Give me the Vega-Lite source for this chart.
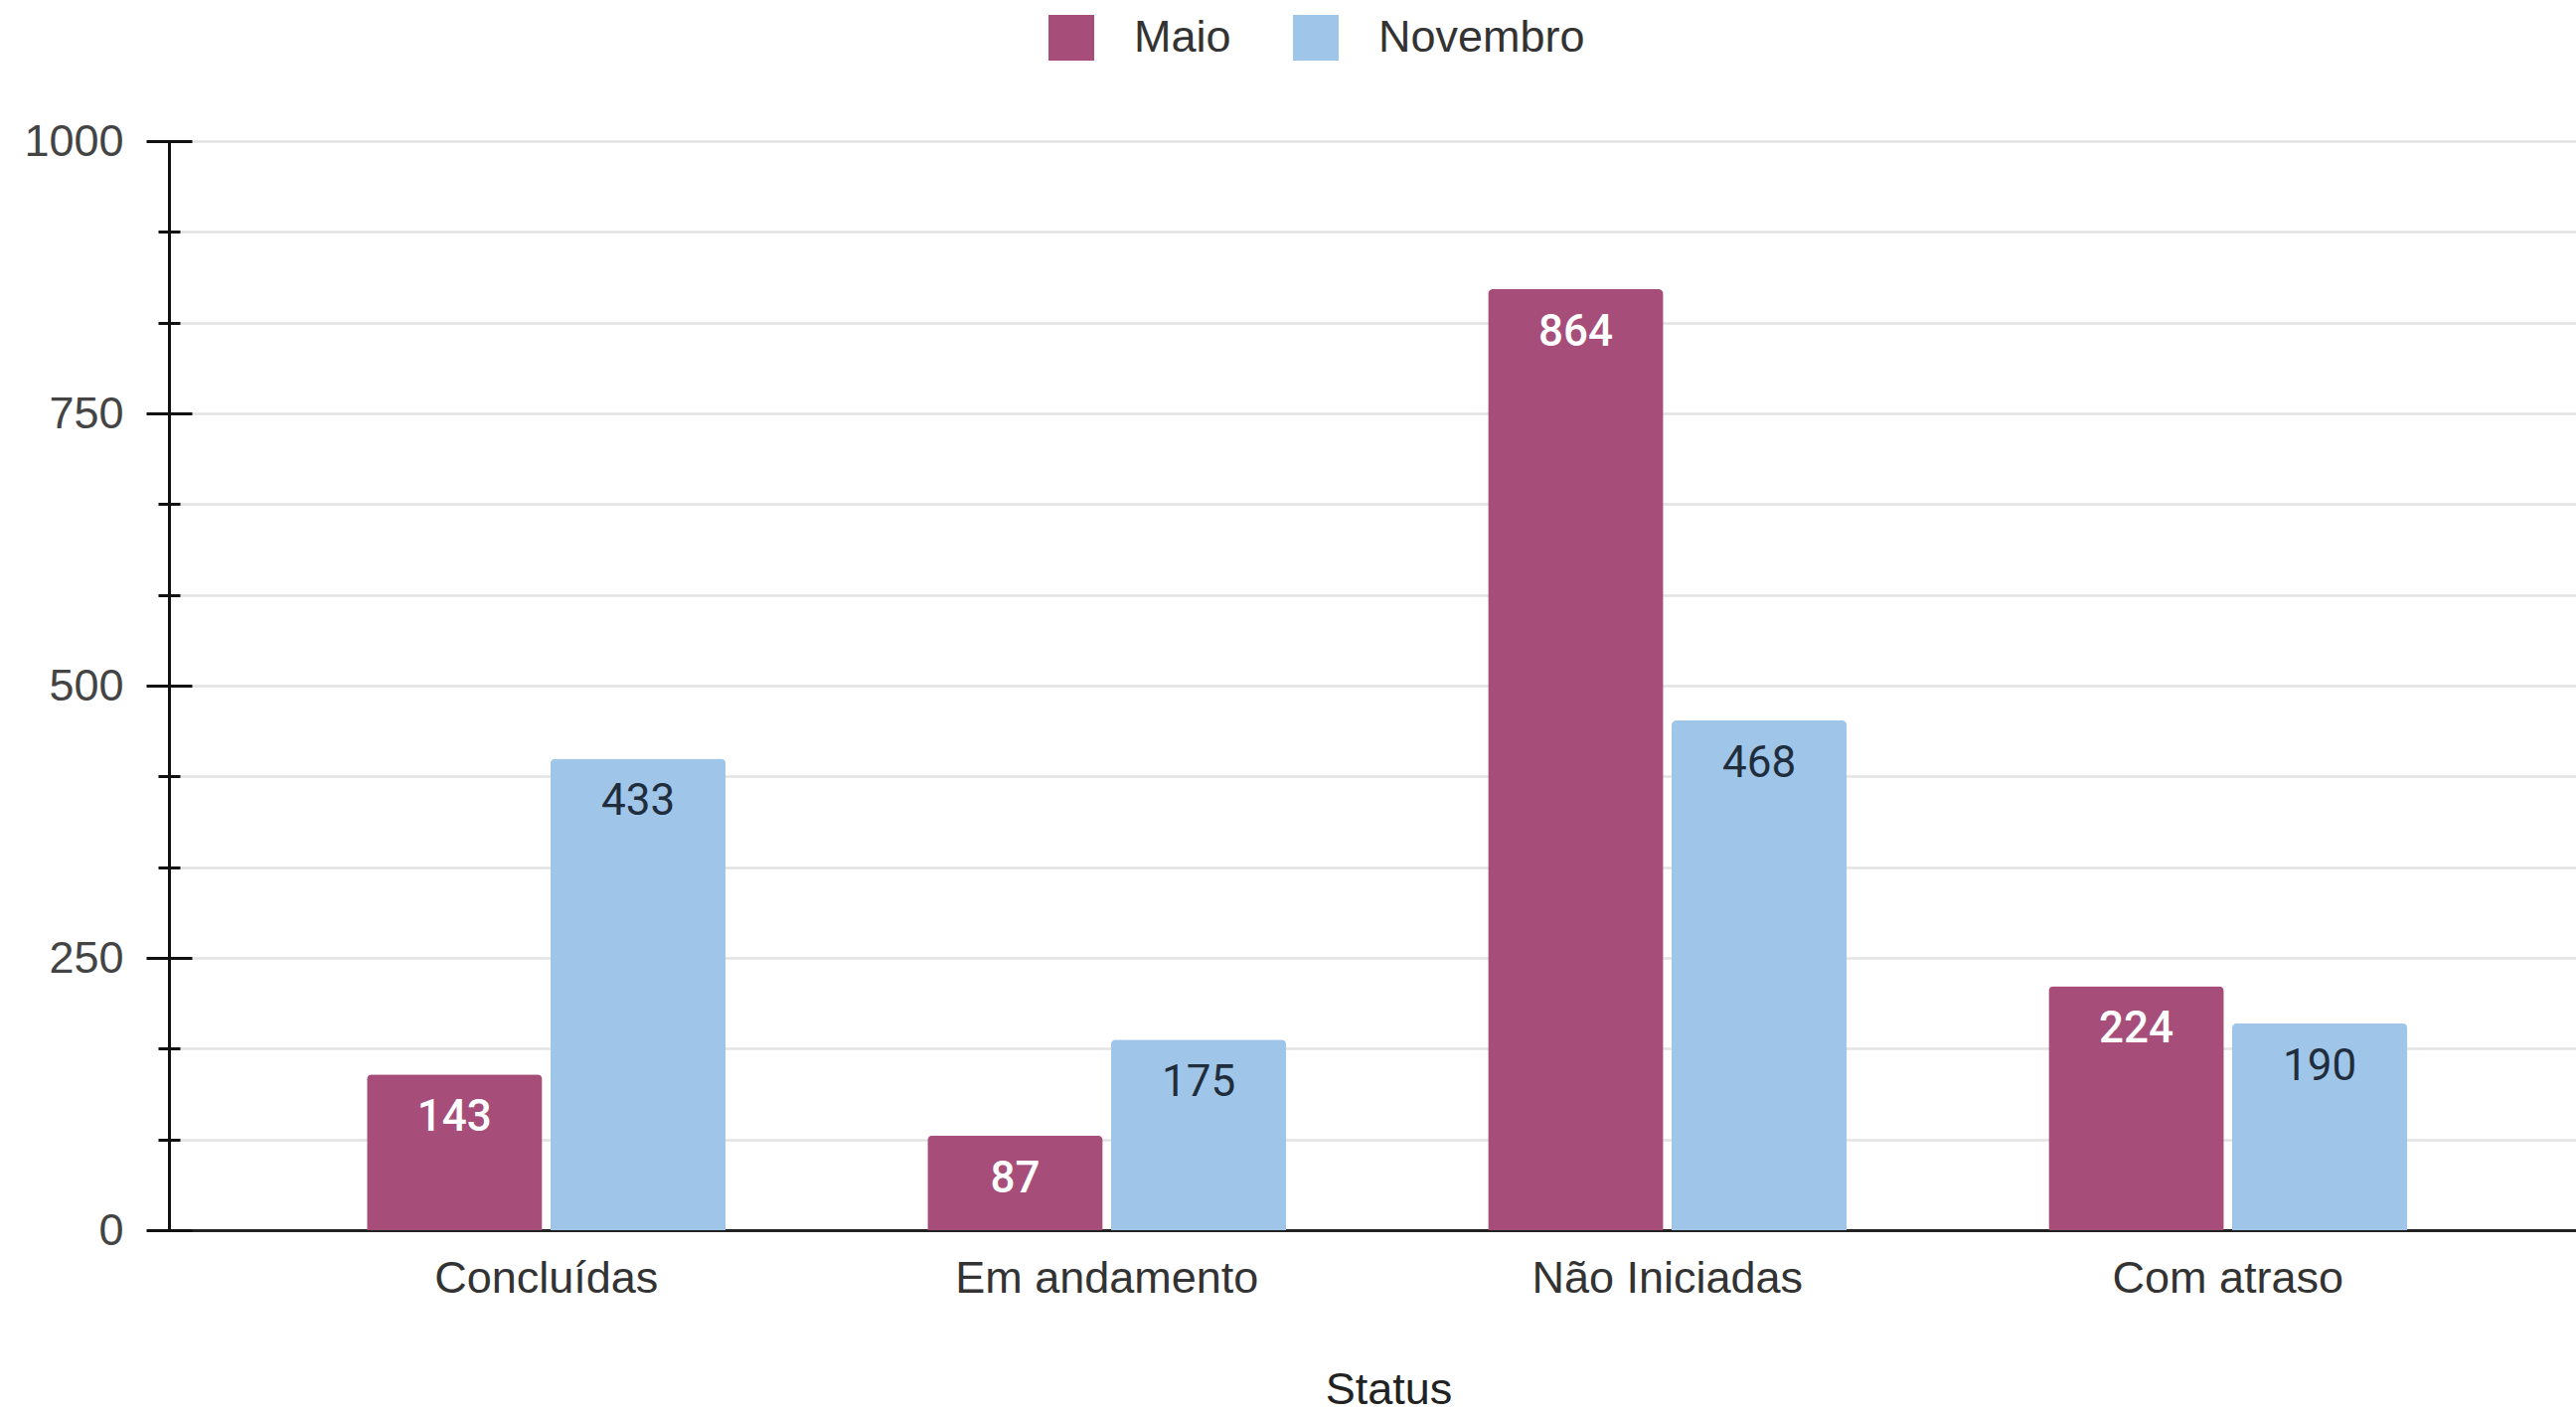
{
  "$schema": "https://vega.github.io/schema/vega-lite/v6.json",
  "width": 2422,
  "height": 1096,
  "autosize": {"type": "none"},
  "padding": {"left": 170, "top": 142, "right": 0, "bottom": 184},
  "background": "white",
  "config": {"font": "Liberation Sans", "view": {"stroke": null}},
  "data": {
    "values": [
      {"status": "Concluídas", "mes": "Maio", "valor": 143},
      {"status": "Concluídas", "mes": "Novembro", "valor": 433},
      {"status": "Em andamento", "mes": "Maio", "valor": 87},
      {"status": "Em andamento", "mes": "Novembro", "valor": 175},
      {"status": "Não Iniciadas", "mes": "Maio", "valor": 864},
      {"status": "Não Iniciadas", "mes": "Novembro", "valor": 468},
      {"status": "Com atraso", "mes": "Maio", "valor": 224},
      {"status": "Com atraso", "mes": "Novembro", "valor": 190}
    ]
  },
  "resolve": {"axis": {"y": "independent"}},
  "layer": [
    {
      "mark": {"type": "bar", "cornerRadiusTopLeft": 5, "cornerRadiusTopRight": 5},
      "encoding": {
        "x": {
          "field": "status",
          "type": "nominal",
          "sort": ["Concluídas", "Em andamento", "Não Iniciadas", "Com atraso"],
          "scale": {"paddingInner": 0.36, "paddingOuter": 0.327, "align": 0.54},
          "axis": {
            "title": "Status",
            "titleFontSize": 45,
            "titleFontWeight": "normal",
            "titleColor": "#222222",
            "titlePadding": 67,
            "titleX": 1227,
            "labelFontSize": 45,
            "labelColor": "#333333",
            "labelPadding": 26,
            "labelLimit": 0,
            "labelAngle": 0,
            "ticks": false,
            "domain": true,
            "domainColor": "#222222",
            "domainWidth": 3,
            "grid": false
          }
        },
        "xOffset": {
          "field": "mes",
          "type": "nominal",
          "sort": ["Maio", "Novembro"],
          "scale": {"paddingInner": 0.045, "paddingOuter": 0}
        },
        "y": {
          "field": "valor",
          "type": "quantitative",
          "scale": {"domain": [0, 1000], "nice": false},
          "axis": {
            "orient": "left",
            "title": null,
            "values": [0, 83.3333, 166.6667, 250, 333.3333, 416.6667, 500, 583.3333, 666.6667, 750, 833.3333, 916.6667, 1000],
            "format": "d",
            "labelExpr": "abs(datum.value % 250) < 0.01 ? datum.label : ''",
            "labelOverlap": false,
            "labelFontSize": 45,
            "labelColor": "#444444",
            "labelPadding": 46,
            "ticks": false,
            "domain": true,
            "domainColor": "#111111",
            "domainWidth": 3,
            "grid": true,
            "gridColor": "#e3e3e3",
            "gridWidth": 2.5
          }
        },
        "color": {
          "field": "mes",
          "type": "nominal",
          "scale": {"domain": ["Maio", "Novembro"], "range": ["#a64d79", "#9fc5e8"]},
          "legend": {
            "orient": "none",
            "legendX": 885,
            "legendY": -127,
            "direction": "horizontal",
            "title": null,
            "padding": 0,
            "symbolType": "square",
            "symbolSize": 2116,
            "symbolStrokeWidth": 0,
            "labelFontSize": 45,
            "labelColor": "#333333",
            "labelLimit": 0,
            "labelOffset": 40,
            "columnPadding": 62
          }
        }
      }
    },
    {
      "transform": [{"filter": "datum.mes === 'Maio'"}],
      "mark": {"type": "text", "baseline": "middle", "dy": 44, "fontSize": 44, "fontWeight": 500, "font": "Roboto", "color": "white"},
      "encoding": {
        "x": {"field": "status", "type": "nominal", "sort": ["Concluídas", "Em andamento", "Não Iniciadas", "Com atraso"]},
        "xOffset": {"field": "mes", "type": "nominal", "sort": ["Maio", "Novembro"]},
        "y": {
          "field": "valor",
          "type": "quantitative",
          "axis": {
            "orient": "left",
            "offset": -23,
            "title": null,
            "values": [0, 250, 500, 750, 1000],
            "tickSize": 46,
            "tickWidth": 3,
            "tickColor": "#111111",
            "domain": false,
            "labels": false,
            "grid": false
          }
        },
        "text": {"field": "valor", "type": "quantitative"}
      }
    },
    {
      "transform": [{"filter": "datum.mes === 'Novembro'"}],
      "mark": {"type": "text", "baseline": "middle", "dy": 44, "fontSize": 44, "fontWeight": 400, "font": "Roboto", "color": "#1f2d3d"},
      "encoding": {
        "x": {"field": "status", "type": "nominal", "sort": ["Concluídas", "Em andamento", "Não Iniciadas", "Com atraso"]},
        "xOffset": {"field": "mes", "type": "nominal", "sort": ["Maio", "Novembro"]},
        "y": {
          "field": "valor",
          "type": "quantitative",
          "axis": {
            "orient": "left",
            "offset": -11,
            "title": null,
            "values": [83.3333, 166.6667, 333.3333, 416.6667, 583.3333, 666.6667, 833.3333, 916.6667],
            "tickSize": 22,
            "tickWidth": 3,
            "tickColor": "#111111",
            "domain": false,
            "labels": false,
            "grid": false
          }
        },
        "text": {"field": "valor", "type": "quantitative"}
      }
    }
  ]
}
